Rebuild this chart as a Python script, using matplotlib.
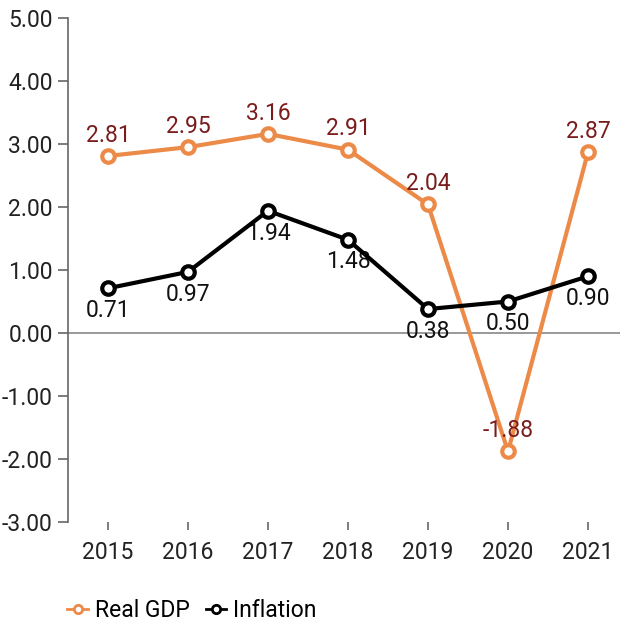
import matplotlib.pyplot as plt

plt.rcParams['font.family'] = ['Roboto', 'DejaVu Sans']

years = ["2015", "2016", "2017", "2018", "2019", "2020", "2021"]
real_gdp = [2.81, 2.95, 3.16, 2.91, 2.04, -1.88, 2.87]
inflation = [0.71, 0.97, 1.94, 1.48, 0.38, 0.50, 0.90]
y_ticks = [-3, -2, -1, 0, 1, 2, 3, 4, 5]

orange = "#ec8a48"
label_red = "#7a1c1c"

fig = plt.figure(figsize=(6.24, 6.24), dpi=100)
ax = fig.add_axes([68/624, 1 - 522/624, 552/624, 504/624])

x = list(range(len(years)))
ax.axhline(0, color="#888888", lw=1.2, zorder=1)

ax.plot(x, real_gdp, color=orange, lw=3, marker="o", ms=9,
        mfc="white", mec=orange, mew=3, label="Real GDP", zorder=3)
ax.plot(x, inflation, color="black", lw=3, marker="o", ms=9,
        mfc="white", mec="black", mew=3, label="Inflation", zorder=4)

for xi, v in zip(x, real_gdp):
    ax.annotate(f"{v:.2f}", (xi, v), xytext=(0, 15), textcoords="offset points",
                ha="center", va="center", fontsize=16.5, color=label_red)
for xi, v in zip(x, inflation):
    ax.annotate(f"{v:.2f}", (xi, v), xytext=(0, -16), textcoords="offset points",
                ha="center", va="center", fontsize=16.5, color="#111111")

ax.set_xlim(-0.5, 6.4)
ax.set_ylim(-3, 5)
ax.set_yticks(y_ticks)
ax.set_yticklabels([f"{t:.2f}" for t in y_ticks])
ax.set_xticks(x)
ax.set_xticklabels(years)

for s in ["top", "right", "bottom"]:
    ax.spines[s].set_visible(False)
ax.spines["left"].set_color("#666666")
ax.spines["left"].set_linewidth(1.2)
ax.tick_params(axis="y", length=7, width=1.2, color="#666666",
               labelsize=16.5, labelcolor="#222222", pad=4)
ax.tick_params(axis="x", length=6, width=1.2, color="#666666",
               labelsize=16.5, labelcolor="#222222", pad=8)

leg = fig.legend(loc="lower left", bbox_to_anchor=(0.075, -0.03), ncol=2, frameon=False,
                 fontsize=16.5, handlelength=0.9, handletextpad=0.3, columnspacing=0.7)
for line in leg.get_lines():
    line.set_linewidth(2)
    line.set_markersize(6)
    line.set_markeredgewidth(2)

fig.savefig("out.png", dpi=100)
